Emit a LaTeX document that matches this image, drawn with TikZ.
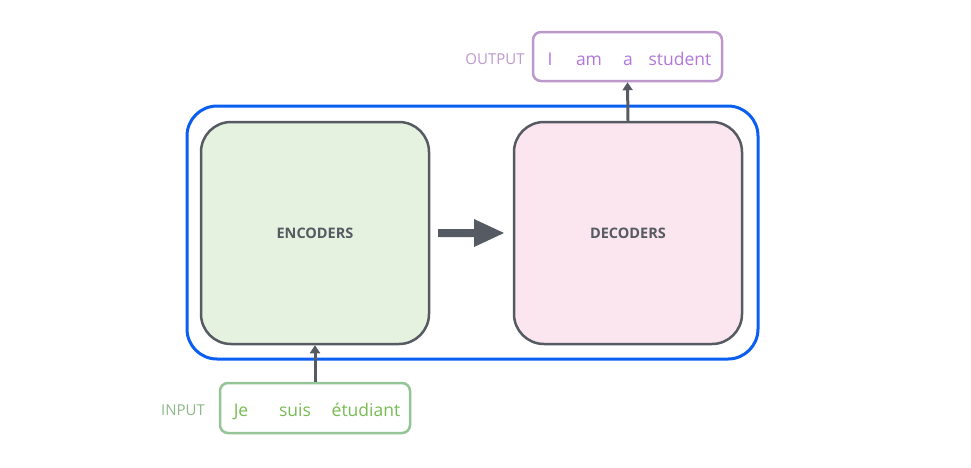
\documentclass[tikz,border=0pt]{standalone}
\usepackage{fontspec}
\setmainfont{Open Sans}
\usetikzlibrary{arrows.meta}
\definecolor{blueb}{HTML}{0A5FF0}
\definecolor{grayb}{HTML}{565A62}
\definecolor{encfill}{HTML}{E6F2E0}
\definecolor{decfill}{HTML}{FBE6EF}
\definecolor{purpb}{HTML}{BC98CC}
\definecolor{purpt}{HTML}{B277D8}
\definecolor{greenb}{HTML}{95C497}
\definecolor{greent}{HTML}{76BC52}
\definecolor{greenl}{HTML}{8DB98A}
\begin{document}
\begin{tikzpicture}[x=1pt,y=-1pt,
  stack/.style={draw=grayb,line width=2.5pt,rounded corners=30pt,minimum width=228pt,minimum height=222pt,inner sep=0pt,font=\fontsize{14.5}{16}\selectfont\bfseries,text=grayb},
  wordbox/.style={line width=2.5pt,rounded corners=8pt,inner sep=0pt},
  word/.style={font=\fontsize{17.5}{20}\selectfont,anchor=base,inner sep=0pt},
  lbl/.style={font=\fontsize{15}{17}\selectfont,anchor=base,inner sep=0pt},
  conn/.style={draw=grayb,line width=3pt,-{Triangle[length=8pt,width=10pt]}}]
\useasboundingbox (0,0) rectangle (971,467);
\draw[blueb,line width=3pt,rounded corners=30pt] (187,106) rectangle (758,359);
\node[stack,fill=encfill] (enc) at (315,233) {ENCODERS};
\node[stack,fill=decfill] (dec) at (628,233) {DECODERS};
\fill[grayb] (438,229) -- (474,229) -- (474,219) -- (504,233) -- (474,247) -- (474,237) -- (438,237) -- cycle;
\node[wordbox,draw=purpb,minimum width=189pt,minimum height=49pt] (out) at (627.5,56.5) {};
\node[lbl,text=purpb] (outl) at (495,64) {OUTPUT};
\node[word,text=purpt] (w1) at (550,65) {I};
\node[word,text=purpt] (w2) at (589,65) {am};
\node[word,text=purpt] (w3) at (628,65) {a};
\node[word,text=purpt] (w4) at (680,65) {student};
\node[wordbox,draw=greenb,minimum width=190pt,minimum height=50pt] (in) at (315,408) {};
\node[lbl,text=greenl] (inl) at (183,415) {INPUT};
\node[word,text=greent] (v1) at (241,416) {Je};
\node[word,text=greent] (v2) at (295,416) {suis};
\node[word,text=greent] (v3) at (366,416) {étudiant};
\draw[conn] (dec.north) -- (out.south);
\draw[conn] (in.north) -- (enc.south);
\end{tikzpicture}
\end{document}
